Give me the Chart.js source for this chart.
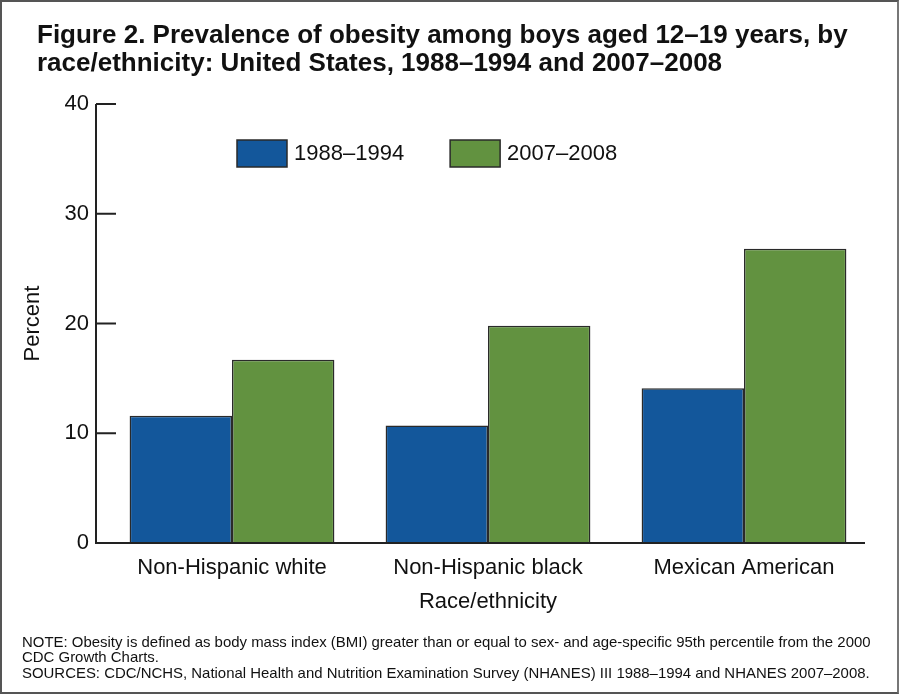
<!DOCTYPE html>
<html>
<head>
<meta charset="utf-8">
<script src="https://cdn.jsdelivr.net/npm/chart.js@4.4.1/dist/chart.umd.min.js"></script>
<style>
  html, body { margin: 0; padding: 0; background: #fff; }
  #wrap { position: relative; width: 899px; height: 694px; font-family: 'Liberation Sans', Arial, sans-serif; color: #111; overflow: hidden; }
  #frame { position: absolute; left: 0; top: 0; width: 899px; height: 694px; box-sizing: border-box; border: 2px solid #555; border-right-color: #777; pointer-events: none; }
  canvas { position: absolute; left: 0; top: 0; }
  #title { position: absolute; left: 37px; top: 20px; font-size: 26px; line-height: 28px; font-weight: bold; white-space: nowrap; }
  #notes { position: absolute; left: 22px; top: 634px; font-size: 14.95px; line-height: 15.3px; white-space: nowrap; }
</style>
</head>
<body>
<div id="wrap">
  <canvas id="chart" width="899" height="694"></canvas>
  <div id="title">Figure 2. Prevalence of obesity among boys aged 12–19 years, by<br>race/ethnicity: United States, 1988–1994 and 2007–2008</div>
  <div id="notes">NOTE: Obesity is defined as body mass index (BMI) greater than or equal to sex- and age-specific 95th percentile from the 2000<br>CDC Growth Charts.<br>SOURCES: CDC/NCHS, National Health and Nutrition Examination Survey (NHANES) III 1988–1994 and NHANES 2007–2008.</div>
  <div id="frame"></div>
</div>
<script>
const categories = ['Non-Hispanic white', 'Non-Hispanic black', 'Mexican American'];
const seriesNames = ['1988–1994', '2007–2008'];
const values1988 = [11.6, 10.7, 14.1];
const values2007 = [16.7, 19.8, 26.8];
const yTicks = [0, 10, 20, 30, 40];

const FONT = "'Liberation Sans', Arial, sans-serif";
const blue = '#13579b';
const green = '#629240';

// axis lines with inward ticks, plus the legend inside the plot
const axisPlugin = {
  id: 'axisLines',
  afterDatasetsDraw(chart) {
    const { ctx, chartArea: a, scales: { y } } = chart;
    const x0 = a.left - 8;
    const x1 = a.right - 7;
    ctx.save();
    ctx.strokeStyle = '#222';
    ctx.lineWidth = 2;
    ctx.beginPath();
    ctx.moveTo(x0, y.getPixelForValue(yTicks[yTicks.length - 1]));
    ctx.lineTo(x0, a.bottom);
    ctx.lineTo(x1, a.bottom);
    yTicks.forEach(v => {
      const py = y.getPixelForValue(v);
      ctx.moveTo(x0, py);
      ctx.lineTo(x0 + 20, py);
    });
    ctx.stroke();

    // legend
    ctx.font = '22px ' + FONT;
    ctx.textBaseline = 'middle';
    ctx.fillStyle = '#111';
    let lx = a.left + 133;
    const ly = a.top + 36;
    chart.data.datasets.forEach(ds => {
      ctx.fillStyle = ds.backgroundColor;
      ctx.fillRect(lx, ly, 50, 27);
      ctx.lineWidth = 1.5;
      ctx.strokeStyle = '#2a2a2a';
      ctx.strokeRect(lx, ly, 50, 27);
      ctx.fillStyle = '#111';
      ctx.fillText(ds.label, lx + 57, ly + 14);
      lx += 57 + ctx.measureText(ds.label).width + 46;
    });
    ctx.restore();
  }
};

new Chart(document.getElementById('chart'), {
  type: 'bar',
  data: {
    labels: categories,
    datasets: [
      { label: seriesNames[0], data: values1988, backgroundColor: blue, borderColor: '#2a2a2a', borderWidth: 1.5 },
      { label: seriesNames[1], data: values2007, backgroundColor: green, borderColor: '#2a2a2a', borderWidth: 1.5 }
    ]
  },
  options: {
    responsive: false,
    animation: false,
    layout: { padding: { left: 0, top: 104, right: 27, bottom: 71 } },
    plugins: {
      legend: { display: false },
      tooltip: { enabled: false }
    },
    datasets: { bar: { barPercentage: 1.0, categoryPercentage: 0.8 } },
    scales: {
      x: {
        grid: { display: false, drawTicks: false },
        border: { display: false },
        ticks: { font: { family: FONT, size: 22 }, color: '#111', padding: 12 },
        title: { display: true, text: 'Race/ethnicity', font: { family: FONT, size: 22 }, color: '#111', padding: { top: 0, bottom: 8 } },
        afterFit(scale) { scale.height = 80; }
      },
      y: {
        min: 0,
        max: 40,
        afterBuildTicks(scale) { scale.ticks = yTicks.map(v => ({ value: v })); },
        grid: { display: false, drawTicks: false },
        border: { display: false },
        ticks: { font: { family: FONT, size: 22 }, color: '#111', padding: 15 },
        title: { display: true, text: 'Percent', font: { family: FONT, size: 22 }, color: '#111', padding: { top: 20, bottom: 0 } },
        afterFit(scale) { scale.width = 104; }
      }
    }
  },
  plugins: [axisPlugin]
});
</script>
</body>
</html>
